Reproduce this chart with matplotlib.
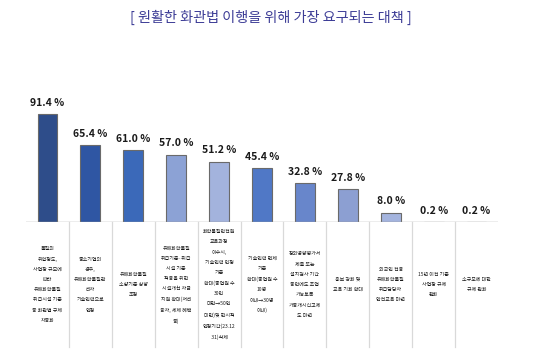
import matplotlib
matplotlib.use("Agg")
import matplotlib.pyplot as plt
import matplotlib.transforms as mtransforms

title = "[ 원활한 화관법 이행을 위해 가장 요구되는 대책 ]"
categories = [
    "물질의\n위험정도,\n사업장 규모에\n따라\n유해화학물질\n취급시설 기준\n등 화관법 규제\n차등화",
    "중소기업의\n경우,\n유해화학물질관\n리자\n기술인력으로\n인정",
    "유해화학물질\n소량기준 상향\n조정",
    "유해화학물질\n취급기준·취급\n시설 기준\n적용을 위한\n시설개선 자금\n지원 확대(저리\n융자, 세제 혜택\n등)",
    "화학물질안전원\n교육과정\n이수시,\n기술인력 인정\n기준\n확대(종업원 수\n30인\n미만→50인\n미만)및 한시적\n인정기간(23.12\n.31)삭제",
    "기술인력 면제\n기준\n확대(종업원 수\n10명\n이내→30명\n이내)",
    "장외영향평가서\n제출 또는\n설치검사 기간\n동안에도 조업\n가능토록\n가동개시신고제\n도 마련",
    "홍보 강화 및\n교육 기회 확대",
    "외국인 전용\n유해화학물질\n취급담당자\n안전교육 마련",
    "15년 이전 기준\n사업장 규제\n완화",
    "소규모에 대한\n규제 완화",
]
values = [91.4, 65.4, 61.0, 57.0, 51.2, 45.4, 32.8, 27.8, 8.0, 0.2, 0.2]
bar_colors = ["#2E4D8A", "#2F56A3", "#3B69B9", "#8CA2D5", "#A3B3DD",
              "#5078C6", "#6886CB", "#8C9FD2", "#A4B4DE", "#6E6E6E", "#6E6E6E"]

plt.rcParams['font.family'] = ['Noto Sans CJK KR', 'DejaVu Sans']

W, H = 540, 359
fig = plt.figure(figsize=(W / 100, H / 100), dpi=100)
ax = fig.add_axes([26 / W, (H - 222) / H, 472 / W, 118 / H])

n = len(values)
x = list(range(n))
ax.bar(x, values, width=0.46, color=bar_colors, edgecolor="#6A6A6A", linewidth=0.8, zorder=3)
ax.set_xlim(-0.5, n - 0.5)
ax.set_ylim(0, 100)
for s in ax.spines.values():
    s.set_visible(False)
ax.set_xticks([])
ax.set_yticks([])
ax.axhline(0, color="#A6A6A6", linewidth=1.0, zorder=4)

for xi, v in zip(x, values):
    ax.annotate(f"{v:.1f} %", (xi, v), xytext=(0, 4.5), textcoords="offset points",
                ha="center", va="bottom", fontsize=7.5, fontweight="bold", color="#1A1A1A")

trans = mtransforms.blended_transform_factory(ax.transData, ax.transAxes)
for i in range(1, n):
    ax.plot([i - 0.5, i - 0.5], [0, -1.06], transform=trans, color="#D9D9D9",
            linewidth=0.9, clip_on=False)

for xi, lab in zip(x, categories):
    ax.text(xi, -0.53, lab, transform=trans, ha="center", va="center",
            fontsize=3.6, linespacing=2.3, color="#1A1A1A", multialignment="center")

fig.text(270.5 / W, 1 - 17 / H, title, ha="center", va="center", fontsize=10.2, color="#3C3C96")

fig.savefig("out.png", dpi=100)
